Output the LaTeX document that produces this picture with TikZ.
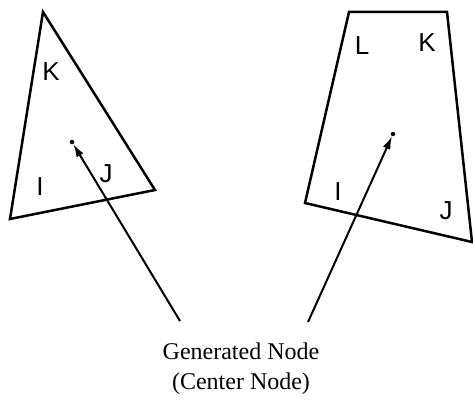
\documentclass[tikz,border=0pt]{standalone}
\usepackage{fontspec}
\setmainfont{Liberation Serif}
\newfontfamily\lblfont{Liberation Sans}
\usetikzlibrary{arrows.meta,positioning}

\tikzset{
  cell/.style={line width=2.5pt, line join=miter},
  vlabel/.style={font=\lblfont\fontsize{26}{28}\selectfont, inner sep=0pt},
  genarrow/.style={line width=2pt, -{Latex[length=13pt,width=8pt]}},
  ctrdot/.style={circle, fill, inner sep=0pt, minimum size=4.5pt}
}

\begin{document}
\begin{tikzpicture}[x=1pt, y=-1pt]
            \useasboundingbox (0,0) rectangle (473,412);
            % Triangle
            \draw[cell] (43,12) -- (10,219) -- (155,190) -- cycle;
            \node[vlabel] (tK) at (51,72) {K};
            \node[vlabel] (tI) at (40,187) {I};
            \node[vlabel] (tJ) at (106,174) {J};
            \node[ctrdot] (tc) at (72,142) {};

            % Quadrilateral
            \draw[cell] (349,12) -- (447,12) -- (472,242) -- (305,203) -- cycle;
            \node[vlabel] (qL) at (362,46) {L};
            \node[vlabel] (qK) at (427,43) {K};
            \node[vlabel] (qI) at (338,192) {I};
            \node[vlabel] (qJ) at (446,211) {J};
            \node[ctrdot] (qc) at (393,134) {};

            % Label and arrows
            \node[align=center, font=\fontsize{24}{30}\selectfont] (gen) at (241,369) {Generated Node\\(Center Node)};
            \coordinate (g1) at (180,321);
            \coordinate (g2) at (308,322);
            \draw[genarrow] (g1) -- (tc);
            \draw[genarrow] (g2) -- (qc);
        \end{tikzpicture}
\end{document}
